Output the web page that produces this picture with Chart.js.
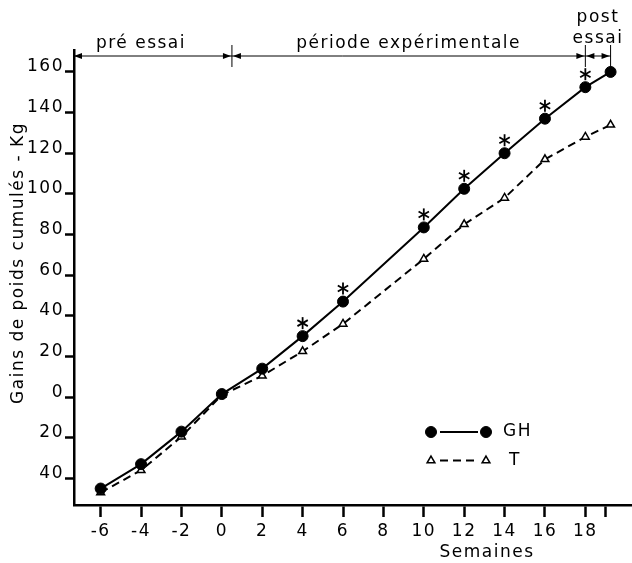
<!DOCTYPE html>
<html>
<head>
<meta charset="utf-8">
<script src="https://cdn.jsdelivr.net/npm/chart.js@4.4.1/dist/chart.umd.min.js"></script>
<style>
  body { margin: 0; background: #fff; }
  #box { width: 632px; height: 563px; }
</style>
</head>
<body>
<div id="box"><canvas id="gains" width="632" height="563"></canvas></div>
<script>
// semaines et gains cumulés (kg)
const weeks = [-6, -4, -2, 0, 2, 4, 6, 10, 12, 14, 16, 18, 19.25]
const ghGain = [-45, -33, -17, 1.5, 14, 30, 47, 83.5, 102.5, 120, 137, 152.5, 160]
const tGain = [-47, -36, -19.5, 1, 10.5, 22.5, 36, 68, 85, 98, 117, 128, 134]
const starWeeks = [4, 6, 10, 12, 14, 16, 18]
const xTicks = [-6, -4, -2, 0, 2, 4, 6, 8, 10, 12, 14, 16, 18, 19]
const yTicks = [-40, -20, 0, 20, 40, 60, 80, 100, 120, 140, 160]
const periodNames = [['pré essai'], ['période expérimentale'], ['post', 'essai']]
const periodEnds = [0.5, 18, 19.25]

const FONT = '17px "DejaVu Sans"'

function toXY(ys) {
    return weeks.map((w, i) => ({x: w, y: ys[i]}))
}

function arrowHead(ctx, x, y, dir) {
    ctx.beginPath()
    ctx.moveTo(x, y)
    ctx.lineTo(x - dir * 8, y - 3)
    ctx.lineTo(x - dir * 8, y + 3)
    ctx.closePath()
    ctx.fill()
}

const overlay = {
    id: 'overlay',
    beforeDraw(chart) {
        // le lettrage de la figure est assez espacé
        chart.ctx.letterSpacing = '1.5px'
    },
    afterDatasetsDraw(chart) {
        let ctx = chart.ctx
        let xs = chart.scales.x, ys = chart.scales.y
        let area = chart.chartArea
        ctx.save()
        ctx.strokeStyle = '#000'
        ctx.fillStyle = '#000'

        // étoiles de signification
        ctx.lineWidth = 1.8
        starWeeks.forEach(w => {
            let i = weeks.indexOf(w)
            let px = xs.getPixelForValue(w)
            let py = ys.getPixelForValue(ghGain[i]) - 13
            for (let k = 0; k < 3; k++) {
                let a = Math.PI / 2 + k * Math.PI / 3
                ctx.beginPath()
                ctx.moveTo(px - 6 * Math.cos(a), py - 6 * Math.sin(a))
                ctx.lineTo(px + 6 * Math.cos(a), py + 6 * Math.sin(a))
                ctx.stroke()
            }
        })

        // périodes en haut
        let lineY = area.top + 6
        let edges = [area.left].concat(periodEnds.map(v => xs.getPixelForValue(v)))
        ctx.lineWidth = 1
        ctx.beginPath()
        ctx.moveTo(edges[0], lineY)
        ctx.lineTo(edges[edges.length - 1], lineY)
        ctx.stroke()
        for (let i = 1; i < edges.length; i++) {
            ctx.beginPath()
            ctx.moveTo(edges[i], area.top - 5)
            ctx.lineTo(edges[i], area.top + 17)
            ctx.stroke()
        }
        ctx.font = FONT
        ctx.letterSpacing = '1.5px'
        ctx.textAlign = 'center'
        ctx.textBaseline = 'alphabetic'
        for (let i = 0; i < periodNames.length; i++) {
            let a = edges[i], b = edges[i + 1]
            arrowHead(ctx, a + (i == 0 ? 0 : 1), lineY, -1)
            arrowHead(ctx, b - 1, lineY, 1)
            let cx = (a + b) / 2
            if (i == 0) cx -= 12
            let lines = periodNames[i]
            if (lines.length == 1) {
                ctx.fillText(lines[0], cx, lineY - 8)
            } else {
                ctx.fillText(lines[0], cx, lineY - 34)
                ctx.fillText(lines[1], cx, lineY - 13)
            }
        }

        // légende
        let lx = 431, ly = 432
        chart.data.datasets.forEach((ds, i) => {
            let y = ly + i * 28.5
            ctx.lineWidth = ds.borderWidth
            ctx.setLineDash(ds.borderDash || [])
            ctx.beginPath()
            ctx.moveTo(lx + 9, y)
            ctx.lineTo(lx + 47, y)
            ctx.stroke()
            ctx.setLineDash([])
            let opt = {pointStyle: ds.pointStyle, radius: ds.pointRadius, borderWidth: ds.pointBorderWidth, rotation: 0}
            ctx.fillStyle = ds.pointBackgroundColor
            ctx.lineWidth = ds.pointBorderWidth
            Chart.helpers.drawPoint(ctx, opt, lx, y)
            Chart.helpers.drawPoint(ctx, opt, lx + 55, y)
            ctx.fillStyle = '#000'
            ctx.textAlign = 'left'
            ctx.textBaseline = 'middle'
            ctx.fillText(ds.label, i == 0 ? 503 : 509, y)
        })

        // titres des axes
        ctx.textAlign = 'center'
        ctx.textBaseline = 'middle'
        ctx.fillText('Semaines', 487, 553)
        ctx.translate(19, 263)
        ctx.rotate(-Math.PI / 2)
        ctx.fillText('Gains de poids cumulés - Kg', 0, 0)
        ctx.restore()
    }
}

Chart.defaults.font.family = '"DejaVu Sans"'
Chart.defaults.font.size = 17
Chart.defaults.color = '#000'

const data = {
    datasets: [{
        label: 'GH',
        data: toXY(ghGain),
        borderColor: '#000',
        borderWidth: 2,
        pointStyle: 'circle',
        pointRadius: 5.5,
        pointBackgroundColor: '#000',
        pointBorderColor: '#000',
        pointBorderWidth: 1,
        tension: 0
    }, {
        label: 'T',
        data: toXY(tGain),
        borderColor: '#000',
        borderWidth: 2,
        borderDash: [8, 5],
        pointStyle: 'triangle',
        pointRadius: 4.5,
        pointBackgroundColor: '#fff',
        pointBorderColor: '#000',
        pointBorderWidth: 1.5,
        tension: 0
    }]
}

const config = {
    type: 'line',
    data: data,
    options: {
        responsive: false,
        animation: false,
        layout: {autoPadding: false, padding: {top: 50, right: 0, left: 0, bottom: 0}},
        plugins: {legend: {display: false}, tooltip: {enabled: false}},
        scales: {
            x: {
                type: 'linear',
                min: -7.32,
                max: 20.31,
                afterBuildTicks: s => { s.ticks = xTicks.map(v => ({value: v})) },
                afterFit: s => {
                    s.height = 58
                    s.paddingLeft = 0
                    s.paddingRight = 0
                },
                ticks: {
                    autoSkip: false,
                    maxRotation: 0,
                    padding: 4,
                    callback: v => (v % 2 === 0 ? v : '')
                },
                grid: {drawOnChartArea: false, tickLength: 12, tickWidth: 2.5, tickColor: '#000'},
                border: {color: '#000', width: 2.5}
            },
            y: {
                min: -53.1,
                max: 170.8,
                afterBuildTicks: s => { s.ticks = yTicks.map(v => ({value: v})) },
                afterFit: s => {
                    s.width = 74
                    s.paddingTop = 0
                    s.paddingBottom = 0
                },
                ticks: {
                    autoSkip: false,
                    padding: 1,
                    labelOffset: -5,
                    callback: v => Math.abs(v)
                },
                grid: {drawOnChartArea: false, tickLength: 9, tickWidth: 2.5, tickColor: '#000'},
                border: {color: '#000', width: 2.5}
            }
        }
    },
    plugins: [overlay]
}

let ctx = document.getElementById('gains').getContext('2d')
new Chart(ctx, config)
</script>
</body>
</html>
